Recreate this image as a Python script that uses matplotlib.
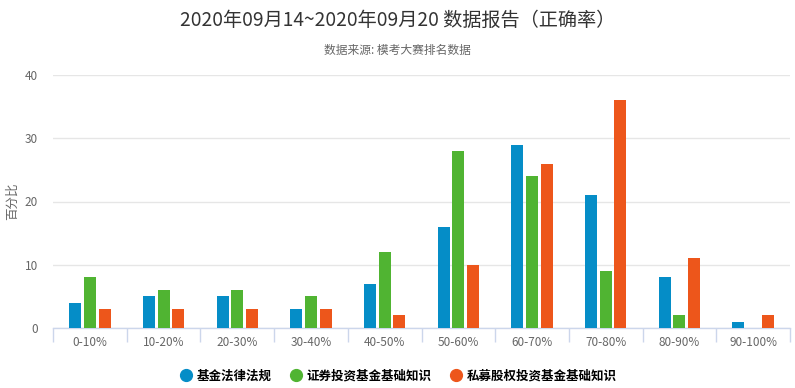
import matplotlib
matplotlib.use("Agg")
import matplotlib.pyplot as plt
from matplotlib.lines import Line2D
import numpy as np

plt.rcParams['font.family'] = ['Noto Sans CJK SC', 'DejaVu Sans']

categories = ["0-10%", "10-20%", "20-30%", "30-40%", "40-50%", "50-60%",
              "60-70%", "70-80%", "80-90%", "90-100%"]
series_names = ["基金法律法规", "证券投资基金基础知识", "私募股权投资基金基础知识"]
law = [4, 5, 5, 3, 7, 16, 29, 21, 8, 1]
securities = [8, 6, 6, 5, 12, 28, 24, 9, 2, 0]
private_eq = [3, 3, 3, 3, 2, 10, 26, 36, 11, 2]
yticks = [0, 10, 20, 30, 40]

colors = ["#058DC7", "#50B432", "#ED561B"]
series = [law, securities, private_eq]

fig = plt.figure(figsize=(7.95, 3.88), dpi=100)
ax = fig.add_axes([53/795, 1-328/388, (790-53)/795, (328-75)/388])

x = np.arange(len(categories))
bw = 0.163
pitch = 0.2
for i, (vals, c) in enumerate(zip(series, colors)):
    ax.bar(x + (i-1)*pitch, vals, width=bw, color=c, zorder=3)

ax.set_xlim(-0.5, len(categories)-0.5)
ax.set_ylim(0, 40)
ax.set_yticks(yticks)
ax.yaxis.grid(True, color="#e6e6e6", linewidth=1)
ax.set_axisbelow(True)
for s in ["top", "right", "left"]:
    ax.spines[s].set_visible(False)
ax.spines["bottom"].set_color("#ccd6eb")
ax.spines["bottom"].set_linewidth(1)

ax.set_xticks(x)
ax.set_xticklabels(categories)
ax.set_xticks(np.arange(-0.5, len(categories)), minor=True)
ax.tick_params(axis="x", which="major", length=0, pad=6, labelsize=8.5, labelcolor="#666666")
ax.tick_params(axis="x", which="minor", length=10, color="#ccd6eb", width=1)
ax.tick_params(axis="y", length=0, pad=11, labelsize=8.5, labelcolor="#666666")

fig.text(12/795, 1-201/388, "百分比", rotation=90, ha="center", va="center",
         color="#666666", fontsize=9)

fig.text(0.5, 1-20/388, "2020年09月14~2020年09月20 数据报告（正确率）",
         ha="center", va="center", fontsize=13.8, color="#333333")
fig.text(0.5, 1-50/388, "数据来源: 模考大赛排名数据",
         ha="center", va="center", fontsize=8.5, color="#666666")

handles = [Line2D([0], [0], marker="o", linestyle="none", markersize=8.5,
                  markerfacecolor=c, markeredgecolor=c) for c in colors]
fig.legend(handles, series_names, loc="center", bbox_to_anchor=(0.5, 1-376/388),
           ncol=3, frameon=False, handletextpad=0.3, columnspacing=1.3,
           handlelength=1.2, prop={"weight": "bold", "size": 9})

fig.savefig("out.png", dpi=100)
